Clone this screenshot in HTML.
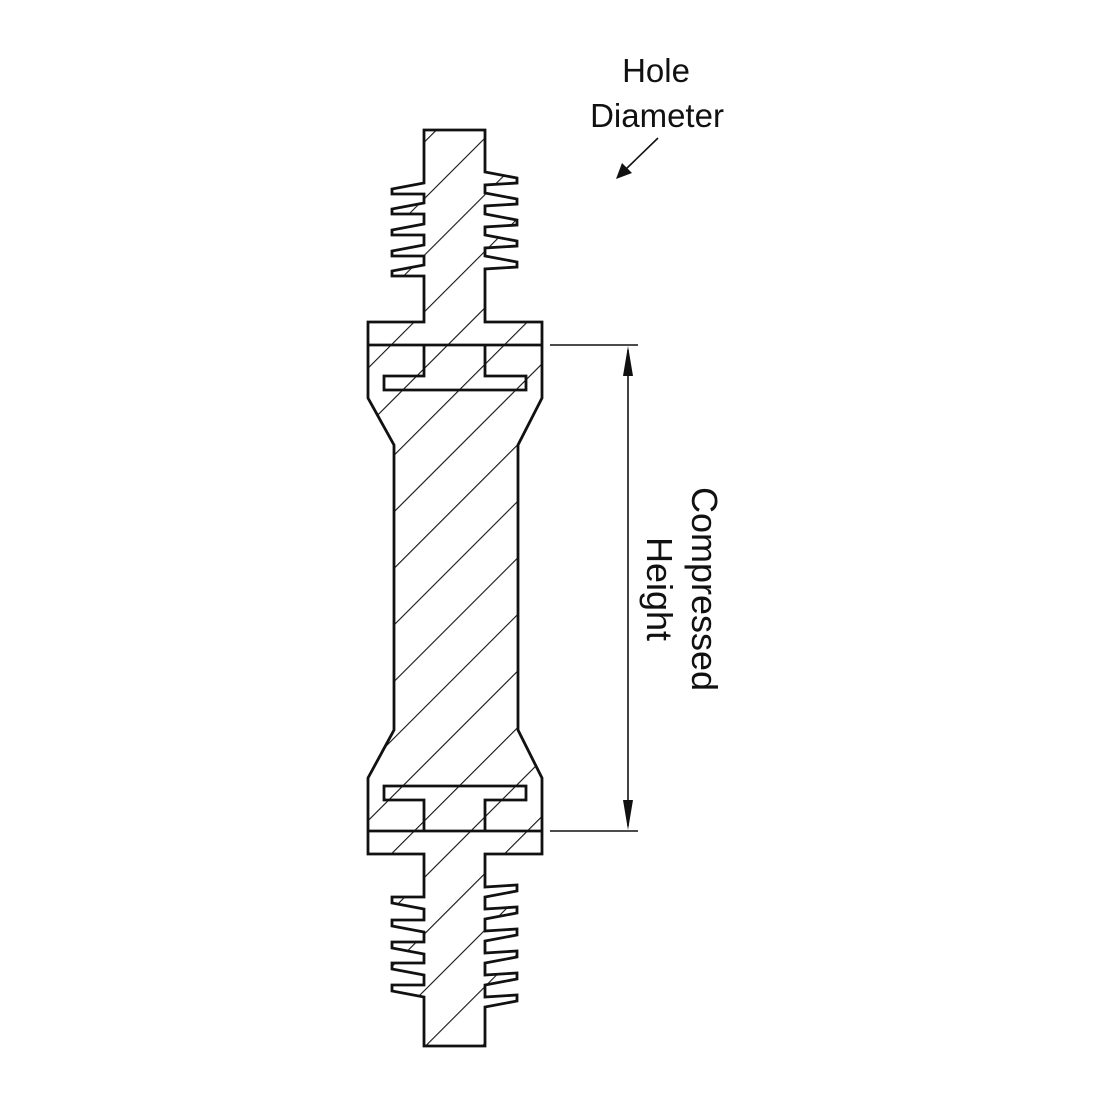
<!DOCTYPE html>
<html><head><style>html,body{margin:0;padding:0;background:#fff}svg{display:block}</style></head>
<body>
<svg id="s" width="1100" height="1100" viewBox="0 0 1100 1100" xmlns="http://www.w3.org/2000/svg">
<defs>
<pattern id="h" patternUnits="userSpaceOnUse" width="40" height="40" patternTransform="rotate(45)">
<line x1="0" y1="0" x2="0" y2="40" stroke="#111" stroke-width="2.2"/>
</pattern>
<clipPath id="c"><path id="cp"/></clipPath>
</defs>
<g id="g"></g>
<g stroke="#111" stroke-width="2.8" fill="none">
<line x1="368" y1="345" x2="542" y2="345"/>
<polyline points="424,345 424,376 384,376 384,390 526,390 526,376 485,376 485,345"/>
<line x1="368" y1="831" x2="542" y2="831"/>
<polyline points="424,831 424,800 384,800 384,786 526,786 526,800 485,800 485,831"/>
</g>
<g stroke="#111" stroke-width="1.6">
<line x1="550" y1="345" x2="638" y2="345"/>
<line x1="550" y1="831" x2="638" y2="831"/>
<line x1="628" y1="350" x2="628" y2="826"/>
<line x1="658" y1="138" x2="625" y2="170"/>
</g>
<polygon points="628,346 623,376 633,376" fill="#111"/>
<polygon points="628,830 623,800 633,800" fill="#111"/>
<polygon points="616,179 622,163 632,173" fill="#111"/>
<g font-family="Liberation Sans, Arial, sans-serif" fill="#111">
<text x="656" y="82" font-size="33" text-anchor="middle">Hole</text>
<text x="657" y="127" font-size="33" text-anchor="middle">Diameter</text>
<text transform="translate(692,589) rotate(90)" font-size="36" text-anchor="middle">Compressed</text>
<text transform="translate(647,589) rotate(90)" font-size="36" text-anchor="middle">Height</text>
</g>
</svg>
<script>
var p=[];
function L(x,y){p.push(x+","+y);}
L(424,130);L(485,130);
[172,193,214,235,256].forEach(function(y){L(485,y);L(517,y+6);L(517,y+11);L(485,y+13);});
L(485,322);L(542,322);L(542,398);L(518,445);L(518,730);L(542,778);L(542,854);L(485,854);
[887,909,931,953,975,997].forEach(function(y){L(485,y);L(517,y-2);L(517,y+4);L(485,y+10);});
L(485,1046);L(424,1046);
[985,963,942,920,897].forEach(function(y){L(424,y+12);L(392,y+6);L(392,y);L(424,y);});
L(424,854);L(368,854);L(368,778);L(394,730);L(394,445);L(368,398);L(368,322);L(424,322);
[265,245,224,203,183].forEach(function(y){L(424,y+11);L(392,y+11);L(392,y+6);L(424,y);});
var d="M"+p.join(" L")+" Z";
document.getElementById("cp").setAttribute("d",d);
var ns="http://www.w3.org/2000/svg",g=document.getElementById("g");
var r=document.createElementNS(ns,"rect");r.setAttribute("x",360);r.setAttribute("y",120);r.setAttribute("width",200);r.setAttribute("height",940);r.setAttribute("fill","url(#h)");r.setAttribute("clip-path","url(#c)");g.appendChild(r);
var o=document.createElementNS(ns,"path");o.setAttribute("d",d);o.setAttribute("fill","none");o.setAttribute("stroke","#111");o.setAttribute("stroke-width","2.8");o.setAttribute("stroke-linejoin","miter");g.appendChild(o);
</script>
</body></html>
